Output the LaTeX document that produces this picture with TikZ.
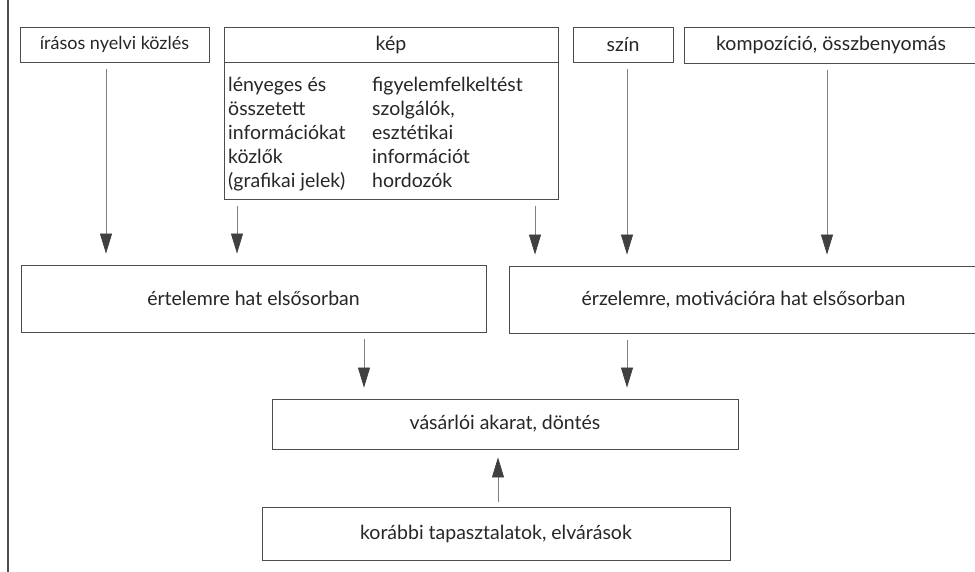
\documentclass[tikz,border=0pt]{standalone}
\usepackage{fontspec}
\setmainfont{Lato}
\usetikzlibrary{arrows.meta}

\begin{document}
\begin{tikzpicture}[x=1pt,y=-1pt,
  box/.style={draw=black!70,line width=0.8pt,inner sep=0pt,minimum height=35pt,text=black!85,font=\fontsize{19.5}{24}\selectfont},
  col/.style={anchor=north west,align=left,inner sep=0pt,text=black!85,font=\fontsize{19.5}{24}\selectfont},
  arr/.style={draw=black!50,line width=0.7pt,-{Triangle[length=20pt,width=12pt,color=black!75]},shorten <=7pt,shorten >=11pt}]
\clip (0,0) rectangle (975,572);
\draw[black!70,line width=1.2pt] (8,0) -- (8,572);
\node[box,minimum width=189pt,font=\fontsize{18}{24}\selectfont] (irasos) at (114.5,44.5) {írásos nyelvi közlés};
\node[box,minimum width=334pt] (kep) at (391,44.5) {kép};
\node[box,minimum width=334pt,minimum height=137pt] (kepbody) at (391,130.5) {};
\node[col] (kepbal) at (228,77) {lényeges és\\összetett\\információkat\\közlők\\(grafikai jelek)};
\node[col] (kepjobb) at (372,77) {figyelemfelkeltést\\szolgálók,\\esztétikai\\információt\\hordozók};
\node[box,minimum width=100pt] (szin) at (623,44.5) {szín};
\node[box,minimum width=294pt,minimum height=36pt] (kompozicio) at (831,45) {kompozíció, összbenyomás};
\node[box,minimum width=465pt,minimum height=67pt] (ertelem) at (253.5,298.5) {értelemre hat elsősorban};
\node[box,minimum width=469pt,minimum height=67pt] (erzelem) at (743.5,299.5) {érzelemre, motivációra hat elsősorban};
\node[box,minimum width=466pt,minimum height=50pt] (vasarloi) at (505,424) {vásárlói akarat, döntés};
\node[box,minimum width=468pt,minimum height=53pt] (korabbi) at (496,533.5) {korábbi tapasztalatok, elvárások};
\draw[arr] (irasos.south -| 106,0) -- (ertelem.north -| 106,0);
\draw[arr] (kepbody.south -| 237,0) -- (ertelem.north -| 237,0);
\draw[arr] (kepbody.south -| 535,0) -- (erzelem.north -| 535,0);
\draw[arr] (szin.south -| 627,0) -- (erzelem.north -| 627,0);
\draw[arr] (kompozicio.south -| 827,0) -- (erzelem.north -| 827,0);
\draw[arr] (ertelem.south -| 364,0) -- (vasarloi.north -| 364,0);
\draw[arr] (erzelem.south -| 627,0) -- (vasarloi.north -| 627,0);
\draw[arr,shorten <=5pt,shorten >=8pt] (korabbi.north -| 498,0) -- (vasarloi.south -| 498,0);
\end{tikzpicture}
\end{document}
